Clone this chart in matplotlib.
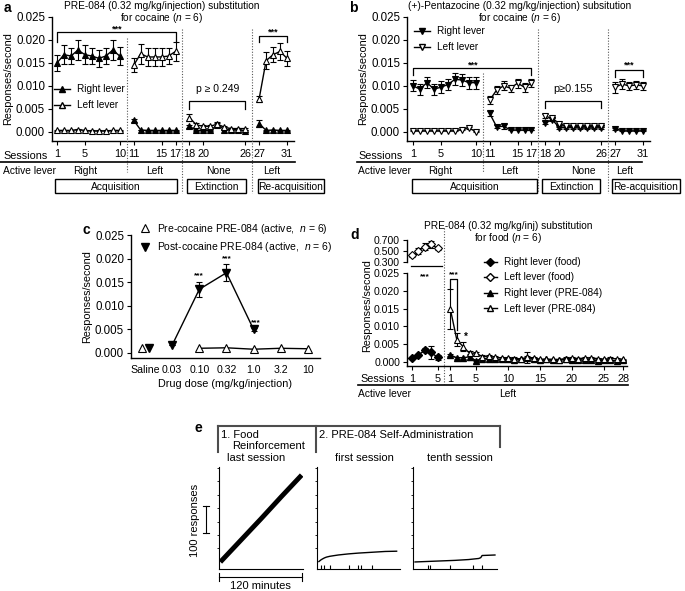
import matplotlib
matplotlib.use("Agg")
import matplotlib.pyplot as plt
from matplotlib.lines import Line2D
from matplotlib.patches import Rectangle
from matplotlib.transforms import blended_transform_factory

plt.rcParams['font.family'] = ['Liberation Sans', 'DejaVu Sans']
plt.rcParams['mathtext.fontset'] = 'custom'
plt.rcParams['mathtext.rm'] = 'Liberation Sans'
plt.rcParams['mathtext.it'] = 'Liberation Sans:italic'
plt.rcParams['font.size'] = 8
plt.rcParams['xtick.labelsize'] = 7.8
plt.rcParams['ytick.labelsize'] = 8.3
plt.rcParams['axes.labelsize'] = 7.8
plt.rcParams['axes.linewidth'] = 1.0
plt.rcParams['xtick.major.size'] = 3
plt.rcParams['ytick.major.size'] = 3
plt.rcParams['xtick.major.pad'] = 2.5
plt.rcParams['ytick.major.pad'] = 2

# ---------------- data ----------------
# panel a: PRE-084 substitution for cocaine, sessions 1-31
phases = [(1, 10), (11, 17), (18, 26), (27, 31)]
session_ticks = [1, 5, 10, 11, 15, 17, 18, 20, 26, 27, 31]

a_right = [0.0150, 0.0168, 0.0165, 0.0178, 0.0168, 0.0165, 0.0160, 0.0165, 0.0178, 0.0165,
           0.0025, 0.0004, 0.0003, 0.0003, 0.0003, 0.0003, 0.0003,
           0.0012, 0.0003, 0.0003, 0.0003, 0.0015, 0.0005, 0.0005, 0.0005, 0.0002,
           0.0018, 0.0003, 0.0004, 0.0003, 0.0003]
a_right_err = [0.0018, 0.0020, 0.0018, 0.0022, 0.0020, 0.0018, 0.0018, 0.0018, 0.0022, 0.0020,
               0.0003, 0.0001, 0.0001, 0.0001, 0.0001, 0.0001, 0.0001,
               0.0003, 0.0002, 0.0002, 0.0002, 0.0004, 0.0002, 0.0002, 0.0002, 0.0002,
               0.0008, 0.0001, 0.0001, 0.0001, 0.0001]
a_left = [0.0003, 0.0003, 0.0003, 0.0005, 0.0003, 0.0002, 0.0002, 0.0002, 0.0003, 0.0003,
          0.0145, 0.0170, 0.0163, 0.0163, 0.0163, 0.0165, 0.0175,
          0.0031, 0.0015, 0.0012, 0.0012, 0.0017, 0.0010, 0.0007, 0.0007, 0.0007,
          0.0072, 0.0155, 0.0168, 0.0175, 0.0160]
a_left_err = [0.0001, 0.0001, 0.0001, 0.0001, 0.0001, 0.0001, 0.0001, 0.0001, 0.0001, 0.0001,
              0.0015, 0.0022, 0.0020, 0.0020, 0.0020, 0.0018, 0.0020,
              0.0007, 0.0004, 0.0003, 0.0003, 0.0004, 0.0003, 0.0002, 0.0002, 0.0002,
              0.0006, 0.0018, 0.0017, 0.0018, 0.0017]

# panel b: (+)-pentazocine substitution for cocaine
b_right = [0.0100, 0.0093, 0.0107, 0.0093, 0.0097, 0.0103, 0.0114, 0.0113, 0.0107, 0.0107,
           0.0040, 0.0011, 0.0012, 0.0004, 0.0004, 0.0004, 0.0004,
           0.0020, 0.0026, 0.0009, 0.0009, 0.0009, 0.0008, 0.0008, 0.0008, 0.0009,
           0.0007, 0.0002, 0.0002, 0.0002, 0.0002]
b_right_err = [0.0012, 0.0012, 0.0012, 0.0012, 0.0013, 0.0012, 0.0013, 0.0013, 0.0013, 0.0013,
               0.0006, 0.0003, 0.0005, 0.0001, 0.0001, 0.0001, 0.0001,
               0.0004, 0.0003, 0.0002, 0.0002, 0.0002, 0.0002, 0.0002, 0.0002, 0.0002,
               0.0002, 0.0001, 0.0001, 0.0001, 0.0001]
b_left = [0.0002, 0.0002, 0.0002, 0.0002, 0.0002, 0.0002, 0.0002, 0.0005, 0.0009, 0.0000,
          0.0069, 0.0091, 0.0100, 0.0095, 0.0106, 0.0097, 0.0106,
          0.0034, 0.0029, 0.0018, 0.0012, 0.0012, 0.0012, 0.0012, 0.0012, 0.0012,
          0.0097, 0.0104, 0.0100, 0.0102, 0.0100]
b_left_err = [0.0001, 0.0001, 0.0001, 0.0001, 0.0001, 0.0001, 0.0001, 0.0001, 0.0002, 0.0001,
              0.0008, 0.0008, 0.0010, 0.0008, 0.0010, 0.0010, 0.0008,
              0.0005, 0.0003, 0.0002, 0.0002, 0.0002, 0.0002, 0.0002, 0.0002, 0.0002,
              0.0012, 0.0010, 0.0008, 0.0008, 0.0008]

# panel c: dose-response
c_doses = ["Saline", "0.03", "0.10", "0.32", "1.0", "3.2", "10"]
c_pre_idx = [0, 2, 3, 4, 5, 6]
c_pre = [0.0010, 0.0010, 0.0011, 0.0008, 0.0010, 0.0009]
c_post_idx = [0, 1, 2, 3, 4]
c_post = [0.0010, 0.0017, 0.0135, 0.0170, 0.0050]
c_post_err = [0.0, 0.0, 0.0016, 0.0018, 0.0003]

# panel d: PRE-084 substitution for food
d_food_sessions = [1, 2, 3, 4, 5]
d_food_right = [0.0012, 0.0020, 0.0033, 0.0027, 0.0013]
d_food_right_err = [0.0002, 0.0003, 0.0006, 0.0018, 0.0007]
d_food_left = [0.42, 0.50, 0.58, 0.62, 0.55]
d_food_left_err = [0.03, 0.06, 0.07, 0.06, 0.03]
d_pre_sessions = list(range(1, 29))
d_pre_left = [0.0148, 0.0063, 0.0043, 0.0025, 0.0025, 0.0015, 0.0017, 0.0013, 0.0012, 0.0012,
              0.0010, 0.0009, 0.0013, 0.0012, 0.0008, 0.0008, 0.0008, 0.0007, 0.0010, 0.0011,
              0.0010, 0.0011, 0.0011, 0.0010, 0.0008, 0.0010, 0.0009, 0.0008]
d_pre_left_err = [0.0056, 0.0018, 0.0012, 0.0005, 0.0004, 0.0004, 0.0003, 0.0003, 0.0003, 0.0003,
                  0.0003, 0.0003, 0.0005, 0.0003, 0.0002, 0.0002, 0.0002, 0.0002, 0.0003, 0.0003,
                  0.0002, 0.0003, 0.0003, 0.0002, 0.0002, 0.0003, 0.0002, 0.0002]
d_pre_right = [0.0020, 0.0012, 0.0012, 0.0015, 0.0004, 0.0010, 0.0010, 0.0008, 0.0008, 0.0010,
               0.0006, 0.0008, 0.0012, 0.0010, 0.0006, 0.0008, 0.0005, 0.0006, 0.0008, 0.0005,
               0.0006, 0.0005, 0.0006, 0.0004, 0.0006, 0.0005, 0.0003, 0.0005]
d_pre_right_err = [0.0002, 0.0002, 0.0002, 0.0008, 0.0002, 0.0002, 0.0002, 0.0002, 0.0002, 0.0002,
                   0.0002, 0.0002, 0.0015, 0.0002, 0.0002, 0.0002, 0.0002, 0.0002, 0.0002, 0.0002,
                   0.0002, 0.0002, 0.0002, 0.0002, 0.0002, 0.0002, 0.0002, 0.0002]

# panel e: cumulative records (minutes, cumulative responses)
e_food_t = [0, 30, 60, 90, 120]
e_food_resp = [0, 80, 160, 242, 322]
e_first_t = [0, 2, 4, 6, 9, 12, 17, 22, 30, 45, 60, 80, 100, 118]
e_first_resp = [0, 4, 8, 11, 15, 18, 21, 23, 26, 30, 33, 36, 39, 40]
e_first_inj = [4, 9, 17, 46, 59, 64, 80]
e_tenth_t = [0, 20, 40, 60, 80, 95, 98, 100, 120]
e_tenth_resp = [0, 2, 4, 6, 9, 13, 16, 24, 26]
e_tenth_inj = [20, 23, 52, 87, 100]

# ---------------- figure ----------------
W, H = 685, 591
fig = plt.figure(figsize=(W / 100, H / 100), dpi=100)

ov = fig.add_axes([0, 0, 1, 1], zorder=10)
ov.set_xlim(0, W)
ov.set_ylim(H, 0)
ov.axis('off')
ov.patch.set_visible(False)


def add_ax(x0, y0, x1, y1):
    return fig.add_axes([x0 / W, 1 - y1 / H, (x1 - x0) / W, (y1 - y0) / H])


def pos_of(s):
    for i, (lo, hi) in enumerate(phases):
        if lo <= s <= hi:
            return s + i
    return s


def vdots(ax, xd, y0, y1):
    tr = blended_transform_factory(ax.transData, ov.transData)
    ov.plot([xd, xd], [y0, y1], transform=tr, ls=(0, (1, 1.5)), lw=0.8,
            color='0.35', clip_on=False)


def bracket(ax, x0, x1, y, d0, d1, lw=0.9):
    ax.plot([x0, x0, x1, x1], [d0, y, y, d1], color='k', lw=lw, clip_on=False)


def stars(ax, x, y, s='***', size=6.5):
    ax.text(x, y, s, ha='center', va='baseline', fontsize=size, fontweight='bold')


def box(x0, y0, x1, y1, txt):
    ov.add_patch(Rectangle((x0, y0), x1 - x0, y1 - y0, fill=False, lw=1.0,
                           ec='k', clip_on=False))
    ov.text((x0 + x1) / 2, (y0 + y1) / 2 + 0.5, txt, ha='center', va='center', fontsize=7.4)


def style(ax):
    ax.spines['top'].set_visible(False)
    ax.spines['right'].set_visible(False)


def session_panel(ax, right, right_err, left, left_err, mk):
    for lo, hi in phases:
        ss = list(range(lo, hi + 1))
        xs = [pos_of(s) for s in ss]
        for vals, errs, face in ((right, right_err, 'k'), (left, left_err, 'white')):
            ax.errorbar(xs, vals[lo - 1:hi], yerr=errs[lo - 1:hi], color='k', lw=1.0,
                        marker=mk, ms=5, mfc=face, mec='k', mew=0.8,
                        capsize=2.5, elinewidth=0.8, capthick=0.8)
    ax.set_ylim(-0.002, 0.025)
    ax.set_yticks([0, 0.005, 0.010, 0.015, 0.020, 0.025])
    ax.set_yticklabels(['%.3f' % v for v in [0, 0.005, 0.010, 0.015, 0.020, 0.025]])
    ax.set_xticks([pos_of(s) for s in session_ticks])
    ax.set_xticklabels([str(s) for s in session_ticks])
    ax.set_ylabel('Responses/second', labelpad=2)
    style(ax)


# ---------- panel a ----------
axa = add_ax(52, 17, 294, 141)
session_panel(axa, a_right, a_right_err, a_left, a_left_err, '^')
axa.set_xlim(0.28, 35.0)
bracket(axa, pos_of(1), pos_of(17), 0.0218, 0.0195, 0.0195)
stars(axa, 9.7, 0.0219)
bracket(axa, pos_of(18), pos_of(26), 0.0067, 0.0050, 0.0050)
axa.text((pos_of(18) + pos_of(26)) / 2, 0.0082, 'p ≥ 0.249', ha='center', va='bottom', fontsize=7.5)
bracket(axa, pos_of(27), pos_of(31), 0.0209, 0.0195, 0.0195)
stars(axa, (pos_of(27) + pos_of(31)) / 2, 0.0212)
axa.legend(handles=[Line2D([], [], color='k', lw=1, marker='^', ms=5, mfc='k'),
                    Line2D([], [], color='k', lw=1, marker='^', ms=5, mfc='white')],
           labels=['Right lever', 'Left lever'], loc='upper left',
           bbox_to_anchor=(54, 84), bbox_transform=ov.transData, frameon=False,
           fontsize=7.2, handlelength=1.6, handletextpad=0.7, labelspacing=0.6, borderpad=0,
           borderaxespad=0)
for xd, y0 in ((11, 38), (19, 29), (29, 29)):
    vdots(axa, xd, y0, 172 if xd == 11 else 193)

ov.text(162, 6, 'PRE-084 (0.32 mg/kg/injection) substitution', ha='center', va='center', fontsize=7.3)
ov.text(162, 18, 'for cocaine ($n$ = 6)', ha='center', va='center', fontsize=7.3)
ov.text(4, 8, 'a', ha='left', va='center', fontsize=10, fontweight='bold')
ov.text(3, 156, 'Sessions', ha='left', va='center', fontsize=7.8)
ov.plot([0, 295], [162, 162], color='k', lw=1.2)
ov.text(3, 171, 'Active lever', ha='left', va='center', fontsize=7.4)
for x, t in ((85, 'Right'), (155, 'Left'), (218, 'None'), (272, 'Left')):
    ov.text(x, 171, t, ha='center', va='center', fontsize=7.4)
box(55, 179, 177, 193, 'Acquisition')
box(187, 179, 246, 193, 'Extinction')
box(258, 179, 324, 193, 'Re-acquisition')

# ---------- panel b ----------
axb = add_ax(407, 17, 650, 141)
session_panel(axb, b_right, b_right_err, b_left, b_left_err, 'v')
axb.set_xlim(0.14, 35.0)
bracket(axb, pos_of(1), pos_of(17), 0.0138, 0.0123, 0.0123)
stars(axb, 9.6, 0.0141)
bracket(axb, pos_of(18), pos_of(26), 0.0068, 0.0052, 0.0052)
axb.text((pos_of(18) + pos_of(26)) / 2, 0.0083, 'p≥0.155', ha='center', va='bottom', fontsize=7.8)
bracket(axb, pos_of(27), pos_of(31), 0.0135, 0.0120, 0.0120)
stars(axb, (pos_of(27) + pos_of(31)) / 2, 0.0139)
axb.legend(handles=[Line2D([], [], color='k', lw=1, marker='v', ms=5, mfc='k'),
                    Line2D([], [], color='k', lw=1, marker='v', ms=5, mfc='white')],
           labels=['Right lever', 'Left lever'], loc='upper left',
           bbox_to_anchor=(414, 26), bbox_transform=ov.transData, frameon=False,
           fontsize=7.2, handlelength=1.6, handletextpad=0.7, labelspacing=0.6, borderpad=0,
           borderaxespad=0)
for xd, y0 in ((11, 73), (19, 29), (29, 29)):
    vdots(axb, xd, y0, 172 if xd == 11 else 193)

ov.text(520, 6, '(+)-Pentazocine (0.32 mg/kg/injection) subsitution', ha='center', va='center',
        fontsize=7.3)
ov.text(520, 18, 'for cocaine ($n$ = 6)', ha='center', va='center', fontsize=7.3)
ov.text(349, 8, 'b', ha='left', va='center', fontsize=10, fontweight='bold')
ov.text(358, 156, 'Sessions', ha='left', va='center', fontsize=7.8)
ov.plot([357, 642], [162, 162], color='k', lw=1.2)
ov.text(358, 171, 'Active lever', ha='left', va='center', fontsize=7.4)
for x, t in ((440, 'Right'), (510, 'Left'), (583, 'None'), (625, 'Left')):
    ov.text(x, 171, t, ha='center', va='center', fontsize=7.4)
box(412, 179, 537, 193, 'Acquisition')
box(542, 179, 600, 193, 'Extinction')
box(612, 179, 680, 193, 'Re-acquisition')

# ---------- panel c ----------
axc = add_ax(131, 235, 320, 358)
off = 0.13
pre_x = [i - off if i == 0 else i for i in c_pre_idx]
post_x = [i + off if i == 0 else i for i in c_post_idx]
axc.plot(pre_x[:1], c_pre[:1], ls='none', marker='^', ms=5.5, mfc='white', mec='k', mew=0.8)
axc.plot(pre_x[1:], c_pre[1:], color='k', lw=1, marker='^', ms=5.5, mfc='white', mec='k', mew=0.8)
axc.plot(post_x[:1], c_post[:1], ls='none', marker='v', ms=5.5, mfc='k', mec='k')
axc.errorbar(post_x[1:], c_post[1:], yerr=c_post_err[1:], color='k', lw=1, marker='v', ms=5.5,
             mfc='k', mec='k', capsize=2.5, elinewidth=0.8, capthick=0.8)
stars(axc, 2, 0.0161, size=6)
stars(axc, 3, 0.0197, size=6)
stars(axc, 4.1, 0.0061, size=6)
axc.set_xlim(-0.52, 6.45)
axc.set_ylim(-0.00106, 0.025)
axc.set_yticks([0, 0.005, 0.010, 0.015, 0.020, 0.025])
axc.set_yticklabels(['%.3f' % v for v in [0, 0.005, 0.010, 0.015, 0.020, 0.025]])
axc.set_xticks(range(len(c_doses)))
axc.set_xticklabels(c_doses, fontsize=7.6)
axc.tick_params(axis='x', length=0, pad=5)
axc.set_xlabel('Drug dose (mg/kg/injection)', labelpad=3)
axc.set_ylabel('Responses/second', labelpad=2)
style(axc)
axc.legend(handles=[Line2D([], [], ls='none', marker='^', ms=5.5, mfc='white', mec='k', mew=0.8),
                    Line2D([], [], ls='none', marker='v', ms=5.5, mfc='k', mec='k')],
           labels=['Pre-cocaine PRE-084 (active,  $n$ = 6)',
                   'Post-cocaine PRE-084 (active,  $n$ = 6)'],
           loc='upper left', bbox_to_anchor=(141, 222), bbox_transform=ov.transData,
           frameon=False, fontsize=7.5, handlelength=0.8, handletextpad=0.7, labelspacing=0.4,
           borderpad=0, borderaxespad=0)
ov.text(83, 230, 'c', ha='left', va='center', fontsize=10, fontweight='bold')

# ---------- panel d ----------
food_pos = d_food_sessions
pre_pos = [s + 6 for s in d_pre_sessions]
axd = add_ax(407, 273, 627, 366)
axd.errorbar(food_pos, d_food_right, yerr=d_food_right_err, color='k', lw=1, marker='D', ms=3.8,
             mfc='k', mec='k', capsize=2.5, elinewidth=0.8, capthick=0.8)
axd.errorbar(pre_pos, d_pre_right, yerr=d_pre_right_err, color='k', lw=1, marker='^', ms=4.2,
             mfc='k', mec='k', capsize=2.5, elinewidth=0.8, capthick=0.8)
axd.errorbar(pre_pos, d_pre_left, yerr=d_pre_left_err, color='k', lw=1, marker='^', ms=4.8,
             mfc='white', mec='k', mew=0.8, capsize=2.5, elinewidth=0.8, capthick=0.8)
axd.set_xlim(0.22, 34.6)
axd.set_ylim(-0.0011, 0.025)
axd.set_yticks([0, 0.005, 0.010, 0.015, 0.020, 0.025])
axd.set_yticklabels(['%.3f' % v for v in [0, 0.005, 0.010, 0.015, 0.020, 0.025]])
axd.tick_params(axis='y', labelsize=7.6)
d_ticks = [1, 5] + [s + 6 for s in (1, 5, 10, 15, 20, 25, 28)]
axd.set_xticks(d_ticks)
axd.set_xticklabels(['1', '5', '1', '5', '10', '15', '20', '25', '28'])
style(axd)
axd.set_ylabel('Responses/second', labelpad=2)
axd.yaxis.set_label_coords(-0.16, 0.65)
axd.plot([0.8, 5.7], [0.0270, 0.0270], color='k', lw=0.9, clip_on=False)
stars(axd, 3, 0.0236, size=6)
bracket(axd, 7, 8.1, 0.0232, 0.0208, 0.0090)
stars(axd, 7.6, 0.0240, size=6)
stars(axd, 9.4, 0.0063, s='*', size=7)

axu = add_ax(407, 239, 627, 263)
axu.errorbar(food_pos, d_food_left, yerr=d_food_left_err, color='k', lw=1, marker='D', ms=4,
             mfc='white', mec='k', mew=0.8, capsize=2.5, elinewidth=0.8, capthick=0.8)
axu.set_xlim(0.22, 34.6)
axu.set_ylim(0.282, 0.718)
axu.set_yticks([0.3, 0.5, 0.7])
axu.set_yticklabels(['0.300', '0.500', '0.700'])
axu.tick_params(axis='y', labelsize=7.6)
axu.set_xticks([])
for sp in ('top', 'right', 'bottom'):
    axu.spines[sp].set_visible(False)
axu.spines['left'].set_bounds(0.3, 0.7)
axu.patch.set_visible(False)

vdots(axd, 6, 228, 384)
axd.legend(handles=[Line2D([], [], color='k', lw=1, marker='D', ms=3.8, mfc='k'),
                    Line2D([], [], color='k', lw=1, marker='D', ms=4.2, mfc='white'),
                    Line2D([], [], color='k', lw=1, marker='^', ms=4.2, mfc='k'),
                    Line2D([], [], color='k', lw=1, marker='^', ms=4.8, mfc='white')],
           labels=['Right lever (food)', 'Left lever (food)', 'Right lever (PRE-084)',
                   'Left lever (PRE-084)'],
           loc='upper left', bbox_to_anchor=(484, 257), bbox_transform=ov.transData,
           frameon=False, fontsize=7.2, handlelength=1.3, handletextpad=0.7, labelspacing=0.55,
           borderpad=0, borderaxespad=0)
ov.text(508, 226, 'PRE-084 (0.32 mg/kg/inj) substitution', ha='center', va='center', fontsize=7.3)
ov.text(508, 238, 'for food ($n$ = 6)', ha='center', va='center', fontsize=7.3)
ov.text(350, 235, 'd', ha='left', va='center', fontsize=10, fontweight='bold')
ov.text(360, 379, 'Sessions', ha='left', va='center', fontsize=7.8)
ov.plot([358, 628], [385, 385], color='k', lw=1.2)
ov.text(358, 394, 'Active lever', ha='left', va='center', fontsize=7.4)
ov.text(508, 394, 'Left', ha='center', va='center', fontsize=7.4)

# ---------- panel e ----------
rec_boxes = [(219, 303), (317, 400), (413, 497)]
records = [(e_food_t, e_food_resp, None, 3.5),
           (e_first_t, e_first_resp, e_first_inj, 1.0),
           (e_tenth_t, e_tenth_resp, e_tenth_inj, 1.0)]
for (x0, x1), (tt, rr, inj, lw) in zip(rec_boxes, records):
    ax = add_ax(x0, 467, x1, 569)
    ax.plot(tt, rr, color='k', lw=lw, solid_capstyle='butt')
    if inj is not None:
        ax.vlines(inj, -26, -12, color='k', lw=0.8)
    ax.set_xlim(-2, 122)
    ax.set_ylim(-26, 352)
    ax.set_yticks([50, 100, 150, 200, 250, 300, 350])
    ax.set_yticklabels([])
    ax.set_xticks([])
    ax.tick_params(axis='y', length=1.5, width=0.6)
    style(ax)
    ax.spines['left'].set_linewidth(0.8)
    ax.spines['bottom'].set_linewidth(0.8)

ov.text(195, 428, 'e', ha='left', va='center', fontsize=10, fontweight='bold')
ov.plot([218, 500], [426, 426], color='0.3', lw=1.5)
ov.plot([218, 218], [426, 452], color='0.3', lw=1.5)
ov.plot([316, 316], [426, 452], color='0.3', lw=1.5)
ov.plot([500, 500], [426, 447], color='0.3', lw=1.5)
ov.text(221, 435, '1. Food', ha='left', va='center', fontsize=8)
ov.text(232, 446, 'Reinforcement', ha='left', va='center', fontsize=8)
ov.text(256, 458, 'last session', ha='center', va='center', fontsize=8)
ov.text(319, 435, '2. PRE-084 Self-Administration', ha='left', va='center', fontsize=8)
ov.text(364, 458, 'first session', ha='center', va='center', fontsize=8)
ov.text(460, 458, 'tenth session', ha='center', va='center', fontsize=8)
# scale bars
ov.plot([206, 206], [506, 533], color='k', lw=0.8)
ov.plot([203, 209], [506, 506], color='k', lw=0.8)
ov.plot([203, 209], [533, 533], color='k', lw=0.8)
ov.text(195, 520, '100 responses', rotation=90, ha='center', va='center', fontsize=8)
ov.plot([219, 302], [577, 577], color='k', lw=0.8)
ov.plot([219, 219], [573, 581], color='k', lw=0.8)
ov.plot([302, 302], [573, 581], color='k', lw=0.8)
ov.text(260, 586, '120 minutes', ha='center', va='center', fontsize=8)

fig.savefig('out.png', dpi=100)
